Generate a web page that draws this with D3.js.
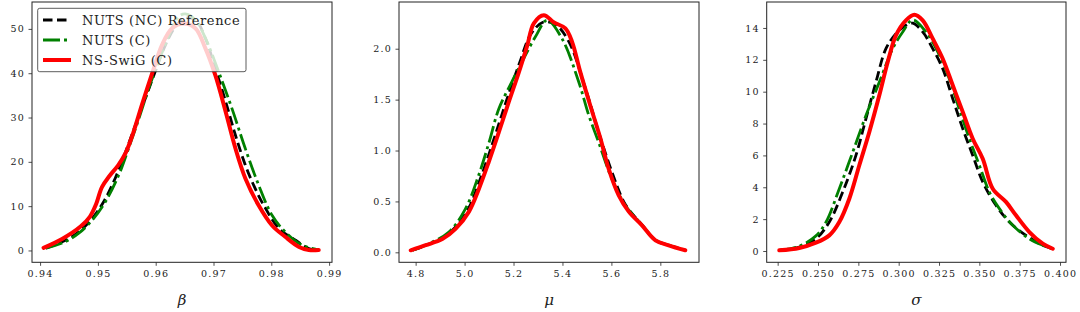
<!DOCTYPE html>
<html>
<head>
<meta charset="utf-8">
<script src="https://cdn.jsdelivr.net/npm/d3@7"></script>
<style>
  body { margin: 0; background: #fff; }
  svg text { font-family: "DejaVu Serif", serif; fill: #222; }
</style>
</head>
<body>
<div class="canvas"></div>
<script>
// ---- data: KDE curves, [x, density] pairs ----
const betaRef = [[0.9410,0.5],[0.9444,2.3],[0.9467,4.2],[0.9490,7.2],[0.9510,11],[0.9530,16.3],[0.9548,22.3],[0.9565,28.3],[0.9582,34.3],[0.9599,40.3],[0.9617,46.4],[0.9634,50.5],[0.9651,52.4],[0.9669,52],[0.9686,47.9],[0.9703,41.1],[0.9721,33.6],[0.9738,26],[0.9755,19.3],[0.9772,14],[0.9790,9.5],[0.9813,5],[0.9842,2.3],[0.9865,0.45],[0.9882,0.1]];
const betaNuts = [[0.9410,0.5],[0.9444,2.0],[0.9467,3.9],[0.9490,6.8],[0.9513,11],[0.9536,17],[0.9553,23],[0.9571,29.8],[0.9588,36.6],[0.9605,42.6],[0.9623,48.6],[0.9640,52.8],[0.9651,53.4],[0.9669,52],[0.9686,47.9],[0.9709,40.3],[0.9732,32],[0.9755,23],[0.9778,14.8],[0.9801,8],[0.9824,4.2],[0.9853,1.2],[0.9882,0.1]];
const betaSwig = [[0.9406,0.6],[0.9438,2.6],[0.9470,5.4],[0.9486,7.6],[0.9497,10.5],[0.9507,14.3],[0.9520,16.8],[0.9535,19.2],[0.9548,22],[0.9561,26.5],[0.9576,32.8],[0.9594,40],[0.9611,46.4],[0.9628,50.1],[0.9649,51.2],[0.9669,50.1],[0.9686,45.6],[0.9703,39.6],[0.9721,31.3],[0.9738,23],[0.9755,16.3],[0.9778,10.2],[0.9801,5.7],[0.9824,3.1],[0.9848,0.8],[0.9865,0.1],[0.9882,0.1]];

const muRef = [[4.787,0.02],[4.841,0.07],[4.909,0.14],[4.963,0.25],[5.018,0.44],[5.058,0.68],[5.099,0.96],[5.140,1.26],[5.181,1.56],[5.226,1.87],[5.270,2.14],[5.320,2.26],[5.370,2.24],[5.426,2.07],[5.494,1.61],[5.548,1.18],[5.602,0.79],[5.657,0.47],[5.725,0.27],[5.780,0.12],[5.834,0.07],[5.902,0.02]];
const muNuts = [[4.787,0.02],[4.841,0.07],[4.936,0.20],[5.004,0.43],[5.058,0.76],[5.100,1.08],[5.140,1.41],[5.190,1.66],[5.241,1.90],[5.290,2.12],[5.337,2.28],[5.398,2.10],[5.467,1.67],[5.507,1.35],[5.548,1.08],[5.602,0.72],[5.657,0.46],[5.725,0.27],[5.780,0.12],[5.834,0.07],[5.902,0.02]];
const muSwig = [[4.780,0.02],[4.841,0.07],[4.909,0.13],[4.963,0.23],[5.018,0.40],[5.058,0.62],[5.099,0.89],[5.140,1.18],[5.181,1.48],[5.222,1.77],[5.256,2.03],[5.283,2.25],[5.324,2.33],[5.364,2.26],[5.412,2.20],[5.439,2.07],[5.473,1.77],[5.514,1.44],[5.555,1.12],[5.589,0.82],[5.630,0.56],[5.671,0.40],[5.725,0.265],[5.780,0.118],[5.834,0.069],[5.902,0.02]];

const sigmaRef = [[0.2260,0.04],[0.2384,0.25],[0.2487,0.77],[0.2570,1.82],[0.2653,3.70],[0.2735,6.0],[0.2797,8.3],[0.2859,10.6],[0.2921,12.7],[0.2983,13.64],[0.3045,14.17],[0.3087,14.3],[0.3149,13.75],[0.3211,12.7],[0.3273,11.44],[0.3335,9.56],[0.3397,7.68],[0.3459,6.0],[0.3521,4.33],[0.3603,2.87],[0.3686,1.82],[0.3789,0.98],[0.3893,0.36],[0.3955,0.14]];
const sigmaNuts = [[0.2260,0.04],[0.2384,0.3],[0.2487,0.95],[0.2550,1.82],[0.2632,3.91],[0.2715,6.2],[0.2797,8.5],[0.2880,10.6],[0.2963,12.7],[0.3025,13.75],[0.3087,14.5],[0.3169,13.75],[0.3252,12.3],[0.3314,10.8],[0.3376,8.9],[0.3438,7.05],[0.3500,5.38],[0.3562,3.7],[0.3624,2.66],[0.3707,1.61],[0.3810,0.77],[0.3893,0.36],[0.3955,0.14]];
const sigmaSwig = [[0.2260,0.04],[0.2384,0.19],[0.2487,0.52],[0.2570,0.98],[0.2632,1.82],[0.2694,3.28],[0.2756,5.38],[0.2818,7.47],[0.2880,9.77],[0.2932,11.86],[0.2983,13.54],[0.3045,14.48],[0.3097,14.83],[0.3149,14.48],[0.3211,13.33],[0.3273,12.07],[0.3335,10.4],[0.3397,8.73],[0.3459,7.05],[0.3521,5.79],[0.3583,3.91],[0.3665,3.08],[0.3727,2.24],[0.3810,1.19],[0.3893,0.46],[0.3955,0.14]];

// tick values
const betaXTicks = [0.94, 0.95, 0.96, 0.97, 0.98, 0.99];
const betaYTicks = [0, 10, 20, 30, 40, 50];
const muXTicks = [4.8, 5.0, 5.2, 5.4, 5.6, 5.8];
const muYTicks = [0.0, 0.5, 1.0, 1.5, 2.0];
const sigmaXTicks = [0.225, 0.250, 0.275, 0.300, 0.325, 0.350, 0.375, 0.400];
const sigmaYTicks = [0, 2, 4, 6, 8, 10, 12, 14];

const seriesNames = ["NUTS (NC) Reference", "NUTS (C)", "NS-SwiG (C)"];

// ---- layout ----
const W = 1080, H = 312;
const plotTop = 2, plotBottom = 262.3;

const styles = [
  { color: "#000000", width: 2.8, dash: "9.5,4.5" },
  { color: "#008000", width: 2.8, dash: "17,4,3,4" },
  { color: "#ff0000", width: 4, dash: null }
];

const panels = [
  { left: 32, right: 332, xdom: [0.9386, 0.9905], ydom: [-2.67, 56.07],
    xt: betaXTicks, yt: betaYTicks, xf: d3.format(".2f"), yf: d3.format("d"),
    label: "β", series: [betaRef, betaNuts, betaSwig], legend: true },
  { left: 399, right: 699, xdom: [4.732, 5.958], ydom: [-0.098, 2.459],
    xt: muXTicks, yt: muYTicks, xf: d3.format(".1f"), yf: d3.format(".1f"),
    label: "μ", series: [muRef, muNuts, muSwig] },
  { left: 766.7, right: 1066, xdom: [0.2182, 0.4037], ydom: [-0.71, 15.63],
    xt: sigmaXTicks, yt: sigmaYTicks, xf: d3.format(".3f"), yf: d3.format("d"),
    label: "σ", series: [sigmaRef, sigmaNuts, sigmaSwig] }
];

const svg = d3.select(".canvas").append("svg")
    .attr("width", W)
    .attr("height", H);

panels.forEach(p => {
  const x = d3.scaleLinear().domain(p.xdom).range([p.left, p.right]);
  const y = d3.scaleLinear().domain(p.ydom).range([plotBottom, plotTop]);

  const g = svg.append("g");

  // curves
  const line = d3.line()
    .curve(d3.curveCatmullRom.alpha(0.5))
    .x(d => x(d[0]))
    .y(d => y(d[1]));

  p.series.forEach((s, i) => {
    const st = styles[i];
    g.append("path")
      .datum(s)
      .attr("fill", "none")
      .attr("stroke", st.color)
      .attr("stroke-width", st.width)
      .attr("stroke-dasharray", st.dash)
      .attr("stroke-linejoin", "round")
      .attr("stroke-linecap", st.dash ? "butt" : "round")
      .attr("d", line);
  });

  // axes
  const xAxis = g.append("g")
    .attr("transform", "translate(0," + plotBottom + ")")
    .call(d3.axisBottom(x).tickValues(p.xt).tickFormat(p.xf).tickSize(3.5).tickPadding(4));
  const yAxis = g.append("g")
    .attr("transform", "translate(" + p.left + ",0)")
    .call(d3.axisLeft(y).tickValues(p.yt).tickFormat(p.yf).tickSize(3.5).tickPadding(3.5));

  [xAxis, yAxis].forEach(a => {
    a.select(".domain").remove();
    a.selectAll(".tick line").attr("stroke", "#222").attr("stroke-width", 0.8);
    a.selectAll(".tick text")
      .style("font-family", "'DejaVu Serif', serif")
      .style("font-size", "9.5px")
      .style("letter-spacing", "1.2px")
      .attr("fill", "#222");
  });

  // frame
  g.append("rect")
    .attr("x", p.left).attr("y", plotTop)
    .attr("width", p.right - p.left).attr("height", plotBottom - plotTop)
    .attr("fill", "none")
    .attr("stroke", "#222")
    .attr("stroke-width", 1);

  // x label
  g.append("text")
    .attr("x", (p.left + p.right) / 2)
    .attr("y", 305)
    .attr("text-anchor", "middle")
    .style("font-size", "15px")
    .style("font-style", "italic")
    .text(p.label);

  // legend
  if (p.legend) {
    const lg = g.append("g");
    lg.append("rect")
      .attr("x", 37.7).attr("y", 8.3)
      .attr("width", 208.3).attr("height", 63.4)
      .attr("rx", 2)
      .attr("fill", "white")
      .attr("fill-opacity", 0.8)
      .attr("stroke", "#333")
      .attr("stroke-width", 0.8);
    seriesNames.forEach((name, i) => {
      const yy = 20 + i * 20;
      const st = styles[i];
      lg.append("line")
        .attr("x1", 43).attr("x2", 71)
        .attr("y1", yy).attr("y2", yy)
        .attr("stroke", st.color)
        .attr("stroke-width", st.width)
        .attr("stroke-dasharray", st.dash);
      lg.append("text")
        .attr("x", 82).attr("y", yy)
        .attr("dy", "0.35em")
        .style("font-size", "13px")
        .style("letter-spacing", "0.6px")
        .text(name);
    });
  }
});
</script>
</body>
</html>
